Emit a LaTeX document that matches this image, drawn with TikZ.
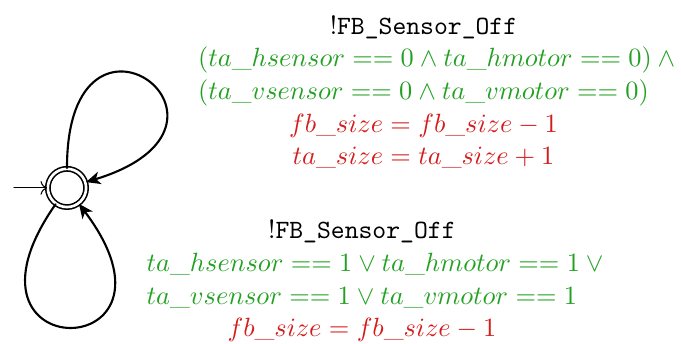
\documentclass[tikz,border=0pt]{standalone}
\usepackage{amsmath,amssymb}
\usetikzlibrary{arrows.meta,positioning}
\definecolor{guardgreen}{RGB}{34,160,34}
\definecolor{updred}{RGB}{212,28,28}
\newcommand{\grd}[1]{\mbox{\textcolor{guardgreen}{$#1$}}}
\newcommand{\upd}[1]{\mbox{\textcolor{updred}{$#1$}}}
\newlength{\wup}
\newlength{\wdown}

\begin{document}
% widths of the third label lines (measured outside the picture, where the text font is set)
\settowidth{\wup}{\grd{(ta\_vsensor == 0 \land ta\_vmotor == 0)}}\global\wup=\wup
\settowidth{\wdown}{\grd{ta\_vsensor == 1 \lor ta\_vmotor == 1}}\global\wdown=\wdown
\begin{tikzpicture}[>=To,line cap=round,
  loc/.style={circle,draw,semithick,double,double distance=1pt,minimum size=14.5pt,inner sep=0pt},
  loopedge/.style={-{Stealth[length=5.4pt,width=4.8pt,inset=1.5pt]},thick},
  lbl/.style={align=center,inner sep=0pt,font=\linespread{1.03}\selectfont}]
\useasboundingbox (0,0) rectangle (9.07,4.58);
% location with its initial arrow
\node[loc] (q0) at (0.892,2.077) {};
\coordinate[left=4.4mm of q0] (init);
\draw[->] (init) -- (q0);
% the two self loops
\draw[loopedge] (q0) to[out=90,in=17,distance=2.6cm] (q0);
\draw[loopedge] (q0) to[out=-125,in=-53,distance=2.7cm] (q0);
% edge labels (the long guard line sticks out to the right)
\node[lbl,text width=\wup] (lblup) at (5.64,3.355) {!\texttt{FB\_Sensor\_Off}\\
  \grd{(ta\_hsensor == 0 \land ta\_hmotor == 0) \land{}}\\
  \grd{(ta\_vsensor == 0 \land ta\_vmotor == 0)}\\
  \upd{fb\_size = fb\_size - 1}\\
  \upd{ta\_size = ta\_size + 1}};
\node[lbl,text width=\wdown] (lbldown) at (4.82,0.84) {!\texttt{FB\_Sensor\_Off}\\
  \grd{ta\_hsensor == 1 \lor ta\_hmotor == 1 \lor{}}\\
  \grd{ta\_vsensor == 1 \lor ta\_vmotor == 1}\\
  \upd{fb\_size = fb\_size - 1}};
\end{tikzpicture}
\end{document}
